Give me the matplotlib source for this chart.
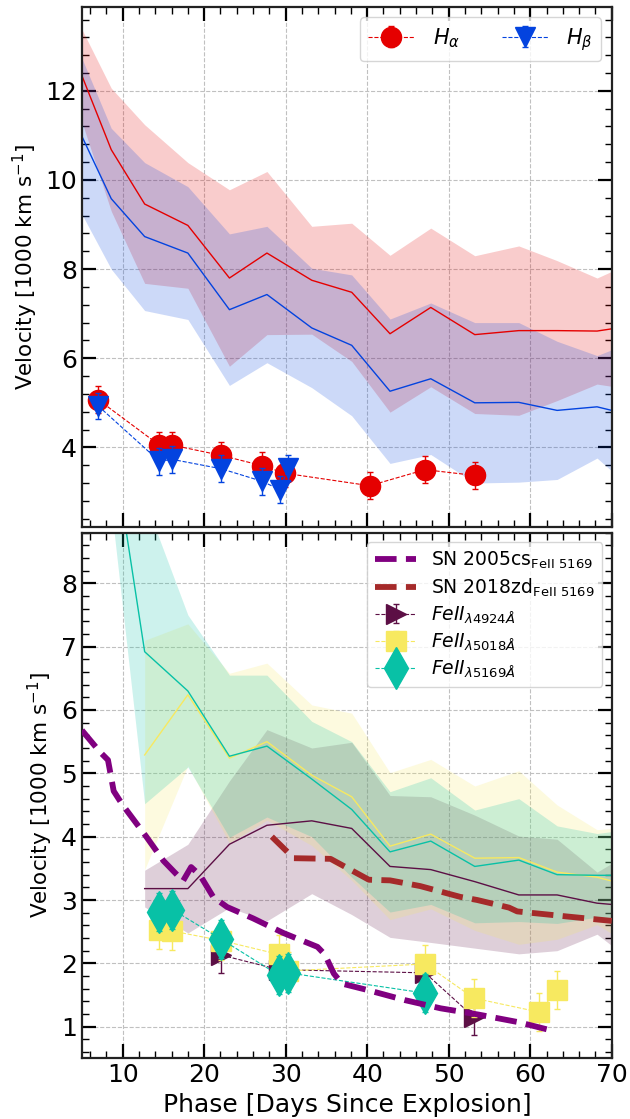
import matplotlib
matplotlib.use("Agg")
import matplotlib.pyplot as plt
from matplotlib.ticker import AutoMinorLocator, MultipleLocator

# ---------------- Balmer lines (top panel) ----------------
# comparison-sample mean velocity and 1-sigma scatter
bal_days = [5.0, 8.6, 12.7, 18.0, 23.1, 27.7, 33.2, 38.1, 42.8, 47.8, 53.2, 58.6, 63.3, 68.2, 70.0]
ha_mean = [12.34, 10.68, 9.46, 8.98, 7.80, 8.36, 7.75, 7.48, 6.55, 7.14, 6.53, 6.62, 6.62, 6.61, 6.66]
ha_std = [1.04, 1.38, 1.78, 1.41, 1.98, 1.83, 1.21, 1.55, 1.76, 1.78, 1.77, 1.90, 1.57, 1.19, 1.29]
hb_mean = [10.98, 9.58, 8.73, 8.36, 7.09, 7.43, 6.68, 6.29, 5.26, 5.54, 5.00, 5.01, 4.83, 4.91, 4.83]
hb_std = [1.75, 1.58, 1.66, 1.49, 1.70, 1.53, 1.34, 1.58, 1.62, 1.70, 1.80, 1.79, 1.55, 1.15, 1.36]

# measured velocities
ha_days = [7.0, 14.5, 16.1, 22.1, 27.1, 29.9, 40.3, 47.1, 53.2]
ha_vel = [5.07, 4.05, 4.05, 3.82, 3.59, 3.42, 3.14, 3.50, 3.37]
ha_err = [0.3, 0.3, 0.3, 0.3, 0.3, 0.3, 0.3, 0.3, 0.3]
hb_days = [7.0, 14.5, 16.1, 22.1, 27.1, 29.3, 30.3]
hb_vel = [4.93, 3.69, 3.73, 3.52, 3.24, 3.05, 3.54]
hb_err = [0.3, 0.3, 0.3, 0.3, 0.3, 0.3, 0.3]

# ---------------- Fe II lines (bottom panel) ----------------
fe_days = [12.7, 18.0, 23.1, 27.7, 33.2, 38.1, 42.8, 47.8, 53.2, 58.6, 63.3, 68.2, 70.0]
fe4924_mean = [3.18, 3.18, 3.88, 4.18, 4.25, 4.13, 3.53, 3.48, 3.29, 3.08, 3.08, 2.95, 2.93]
fe4924_std = [0.29, 0.70, 1.00, 1.51, 1.15, 1.36, 1.12, 1.15, 1.05, 0.93, 0.88, 0.49, 0.65]
fe5018_mean = [5.29, 6.24, 5.24, 5.50, 4.97, 4.63, 3.85, 4.04, 3.66, 3.67, 3.44, 3.36, 3.30]
fe5018_std = [1.81, 1.12, 1.34, 1.24, 1.11, 1.32, 1.16, 1.18, 1.14, 1.37, 1.06, 0.75, 0.83]
fe5169_days = [8.6, 12.7, 18.0, 23.1, 27.7, 33.2, 38.1, 42.8, 47.8, 53.2, 58.6, 63.3, 68.2, 70.0]
fe5169_mean = [10.36, 6.92, 6.30, 5.27, 5.43, 4.91, 4.43, 3.76, 3.93, 3.53, 3.63, 3.40, 3.39, 3.39]
fe5169_std = [1.15, 2.40, 1.20, 1.28, 1.12, 0.91, 1.07, 0.95, 1.00, 0.89, 0.97, 0.77, 0.66, 0.69]

# SN 2005cs and SN 2018zd Fe II 5169 velocities
sn05cs_days = [5.0, 7.2, 8.2, 8.9, 10.0, 12.9, 15.0, 17.4, 18.4, 19.5, 21.1, 22.8, 26.0, 29.7,
               33.9, 34.8, 35.9, 36.9, 40.0, 44.6, 49.0, 53.7, 58.6, 62.3]
sn05cs_vel = [5.68, 5.34, 5.21, 4.72, 4.50, 4.00, 3.62, 3.30, 3.52, 3.39, 3.05, 2.89, 2.71, 2.48,
              2.26, 2.14, 1.84, 1.68, 1.58, 1.42, 1.29, 1.19, 1.07, 0.95]
sn18zd_days = [28.3, 31.0, 35.5, 40.2, 42.8, 46.5, 51.4, 53.5, 57.4, 58.4, 64.5, 70.0]
sn18zd_vel = [4.00, 3.66, 3.65, 3.32, 3.31, 3.22, 3.05, 3.00, 2.88, 2.82, 2.74, 2.67]

# measured Fe II velocities
fe4924_obs_days = [22.1, 29.2, 47.1, 53.1]
fe4924_obs_vel = [2.13, 1.90, 1.85, 1.15]
fe4924_obs_err = [0.28, 0.28, 0.28, 0.28]
fe5018_obs_days = [14.4, 16.1, 22.1, 29.2, 30.3, 47.1, 53.1, 61.1, 63.3]
fe5018_obs_vel = [2.52, 2.51, 2.36, 2.14, 1.88, 1.99, 1.45, 1.23, 1.58]
fe5018_obs_err = [0.3, 0.3, 0.3, 0.3, 0.3, 0.3, 0.3, 0.3, 0.3]
fe5169_obs_days = [14.4, 16.1, 22.1, 29.2, 30.3, 47.1]
fe5169_obs_vel = [2.81, 2.85, 2.38, 1.81, 1.85, 1.53]
fe5169_obs_err = [0.3, 0.3, 0.3, 0.3, 0.3, 0.3]

C_RED = "#e50000"
C_BLUE = "#0343df"
C_4924 = "#5c0f45"
C_5018 = "#f7e960"
C_5169 = "#08c1a6"
C_05CS = "#800080"
C_18ZD = "#a52a2a"


def band(ax, x, mean, std, color, alpha):
    lo = [m - s for m, s in zip(mean, std)]
    hi = [m + s for m, s in zip(mean, std)]
    ax.fill_between(x, lo, hi, color=color, alpha=alpha, lw=0, zorder=1)
    ax.plot(x, mean, color=color, lw=1.0, zorder=2)


def style(ax):
    ax.xaxis.set_minor_locator(AutoMinorLocator(5))
    ax.yaxis.set_minor_locator(AutoMinorLocator(5))
    ax.tick_params(which="both", direction="in", top=True, right=True, labelsize=18)
    ax.tick_params(which="major", length=10, width=1.6)
    ax.tick_params(which="minor", length=5, width=1.0)
    ax.grid(True, which="major", ls="--", color="#c0c0c0", lw=0.8)
    ax.set_axisbelow(True)
    for sp in ax.spines.values():
        sp.set_linewidth(1.6)
        sp.set_color("#222222")


fig = plt.figure(figsize=(6.3, 11.19), dpi=100)
ax1 = fig.add_axes([0.130, 0.5293, 0.841, 0.4644])
ax2 = fig.add_axes([0.130, 0.0542, 0.841, 0.4698], sharex=ax1)

# top panel
band(ax1, bal_days, ha_mean, ha_std, C_RED, 0.2)
band(ax1, bal_days, hb_mean, hb_std, C_BLUE, 0.2)
ax1.errorbar(ha_days, ha_vel, yerr=ha_err, fmt="o--", color=C_RED, ms=14.5, lw=0.8,
             elinewidth=1.0, capsize=2, mec=C_RED, label=r"$H_{\alpha}$", zorder=5)
ax1.errorbar(hb_days, hb_vel, yerr=hb_err, fmt="v--", color=C_BLUE, ms=15, lw=0.8,
             elinewidth=1.0, capsize=2, mec=C_BLUE, label=r"$H_{\beta}$", zorder=6)
ax1.set_ylim(2.22, 13.88)
ax1.yaxis.set_major_locator(MultipleLocator(2))
ax1.set_ylabel(r"Velocity [1000 km s$^{-1}$]", fontsize=15.5)
ax1.legend(loc="upper right", ncol=2, fontsize=15, framealpha=0.8, edgecolor="#cccccc",
           handlelength=2.2, handletextpad=0.9, columnspacing=2.0)
style(ax1)
ax1.tick_params(labelbottom=False)

# bottom panel
band(ax2, fe_days, fe4924_mean, fe4924_std, C_4924, 0.2)
band(ax2, fe_days, fe5018_mean, fe5018_std, C_5018, 0.2)
band(ax2, fe5169_days, fe5169_mean, fe5169_std, C_5169, 0.2)
ax2.plot(sn05cs_days, sn05cs_vel, ls="--", color=C_05CS, lw=4.2,
         label=r"SN 2005cs$_{\rm FeII\ 5169}$", zorder=7)
ax2.plot(sn18zd_days, sn18zd_vel, ls="--", color=C_18ZD, lw=4.2,
         label=r"SN 2018zd$_{\rm FeII\ 5169}$", zorder=7)
ax2.errorbar(fe4924_obs_days, fe4924_obs_vel, yerr=fe4924_obs_err, fmt=">--", color=C_4924,
             ms=15, lw=0.8, elinewidth=1.0, capsize=2, mec=C_4924,
             label=r"$FeII_{\lambda 4924\AA}$", zorder=4)
ax2.errorbar(fe5018_obs_days, fe5018_obs_vel, yerr=fe5018_obs_err, fmt="s--", color=C_5018,
             ms=15, lw=0.8, elinewidth=1.0, capsize=2, mec=C_5018,
             label=r"$FeII_{\lambda 5018\AA}$", zorder=5)
ax2.errorbar(fe5169_obs_days, fe5169_obs_vel, yerr=fe5169_obs_err, fmt="d--", color=C_5169,
             ms=21, lw=0.8, elinewidth=1.0, capsize=2, mec=C_5169,
             label=r"$FeII_{\lambda 5169\AA}$", zorder=6)
ax2.set_ylim(0.5, 8.8)
ax2.set_xlim(5, 70)
ax2.yaxis.set_major_locator(MultipleLocator(1))
ax2.set_ylabel(r"Velocity [1000 km s$^{-1}$]", fontsize=15.5)
ax2.set_xlabel("Phase [Days Since Explosion]", fontsize=18)
ax2.legend(loc="upper right", fontsize=13.5, framealpha=0.8, edgecolor="#cccccc",
           labelspacing=0.3, handlelength=2.2)
style(ax2)

fig.savefig("out.png", dpi=100)
